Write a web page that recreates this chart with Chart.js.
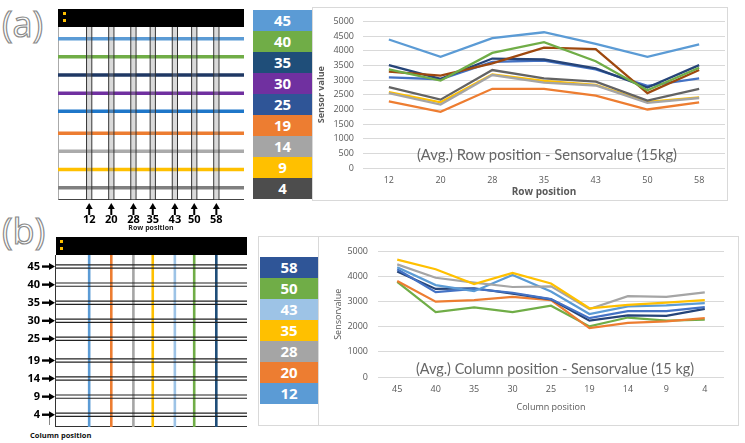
<!DOCTYPE html>
<html><head><meta charset="utf-8">
<script src="https://cdn.jsdelivr.net/npm/chart.js@4.4.0/dist/chart.umd.min.js"></script>
<style>
body{margin:0;background:#fff;width:745px;height:443px;position:relative;overflow:hidden;font-family:"Open Sans",sans-serif}
.abs{position:absolute}
.big{position:absolute;font-family:"Open Sans",sans-serif;font-size:36px;line-height:36px;color:#fff;-webkit-text-stroke:1.2px #8a8a8a;font-weight:400}
.bar{position:absolute;background:#000}
.dot{position:absolute;width:3px;height:3px;background:#FFC000}
.panel{position:absolute;border:1px solid #d9d9d9;background:#fff}
.leg div{height:21px;line-height:21px;color:#fff;font-weight:700;font-size:15px;text-align:center;font-family:"Open Sans",sans-serif}
.ttl{position:absolute;white-space:nowrap;color:#666;font-family:"Lato",sans-serif;font-size:16px}
canvas{position:absolute}
</style></head><body>

<div class="big" style="left:2px;top:6px">(a)</div>
<div class="big" style="left:2px;top:213px">(b)</div>

<!-- schematic (a) frame -->
<div class="bar" style="left:58px;top:9px;width:186px;height:18px"></div>
<div class="dot" style="left:63px;top:12px"></div>
<div class="dot" style="left:63px;top:19px"></div>
<div class="abs" style="left:58px;top:27px;width:185px;height:172px;border-left:1px solid #aaa;border-bottom:1px solid #444"></div>

<!-- schematic (b) frame -->
<div class="bar" style="left:56px;top:237px;width:191px;height:18px"></div>
<div class="dot" style="left:60px;top:240px"></div>
<div class="dot" style="left:60px;top:247px"></div>
<div class="abs" style="left:55px;top:255px;width:191px;height:171px;border-left:1px solid #333;border-bottom:1px solid #333"></div>
<div class="abs" style="left:49px;top:418px;width:1px;height:7px;background:#888"></div>
<div class="abs" style="left:30px;top:430px;font-size:7.5px;font-weight:700;color:#111">Column position</div>

<!-- panels -->
<div class="panel" style="left:312px;top:7px;width:414px;height:192px"></div>
<div class="panel" style="left:258px;top:236px;width:479px;height:188px"></div>
<div class="abs" style="left:318px;top:237px;width:1px;height:188px;background:#d9d9d9"></div>

<div class="leg abs" id="legA" style="left:253px;top:10px;width:59px"></div>
<div class="leg abs" id="legB" style="left:260px;top:257px;width:58px"></div>

<canvas id="schemA" width="186" height="205" style="left:58px;top:27px;width:186px;height:205px"></canvas>
<canvas id="schemB" width="247" height="172" style="left:0px;top:255px;width:247px;height:172px"></canvas>
<canvas id="chartA" width="414" height="192" style="left:312px;top:7px;width:414px;height:192px"></canvas>
<canvas id="chartB" width="418" height="189" style="left:320px;top:236px;width:418px;height:189px"></canvas>

<div class="ttl" style="left:547px;top:153px;transform:translate(-50%,-50%) scaleX(0.925)">(Avg.) Row position - Sensorvalue (15kg)</div>
<div class="ttl" style="left:555px;top:367px;transform:translate(-50%,-50%) scaleX(0.9)">(Avg.) Column position - Sensorvalue (15 kg)</div>

<script>
// ---------- data ----------
const rowPositions = [12, 20, 28, 35, 43, 50, 58];
const columnPositions = [45, 40, 35, 30, 25, 19, 14, 9, 4];

// chart (a): x = row position, one series per column position
const col45 = [4383, 3789, 4428, 4630, 4237, 3789, 4215];
const col40 = [3363, 2982, 3924, 4293, 3643, 2650, 3419];
const col35 = [3509, 3038, 3733, 3700, 3397, 2746, 3509];
const col30 = [3285, 3150, 3565, 4103, 4058, 2556, 3341];
const col25 = [3094, 3027, 3621, 3666, 3363, 2803, 3060];
const col19 = [2276, 1917, 2702, 2702, 2466, 1995, 2242];
const col14 = [2556, 2164, 3172, 2915, 2814, 2220, 2388];
const col9  = [2590, 2242, 3195, 2971, 2836, 2253, 2410];
const col4  = [2758, 2332, 3341, 3060, 2948, 2298, 2702];

// chart (b): x = column position, one series per row position
const row58 = [4203, 3507, 3532, 3317, 3089, 2241, 2456, 2431, 2709];
const row50 = [3785, 2583, 2773, 2583, 2836, 2013, 2367, 2241, 2279];
const row43 = [4368, 3659, 3418, 4064, 3405, 2507, 2810, 2849, 2937];
const row35 = [4671, 4292, 3697, 4140, 3722, 2735, 2874, 2962, 3064];
const row28 = [4482, 3950, 3760, 3583, 3608, 2710, 3216, 3190, 3368];
const row20 = [3823, 3000, 3064, 3190, 3064, 1950, 2152, 2216, 2342];
const row12 = [4292, 3380, 3507, 3355, 3102, 2342, 2621, 2621, 2785];

const legendALabels = ['45', '40', '35', '30', '25', '19', '14', '9', '4'];
const legendBLabels = ['58', '50', '43', '35', '28', '20', '12'];

// ---------- styles ----------
const legendAColors = ['#5B9BD5', '#70AD47', '#1F4E79', '#7030A0', '#2F5597', '#ED7D31', '#A5A5A5', '#FFC000', '#4D4D4D'];
const schemALineColors = ['#5B9BD5', '#70AD47', '#1F3864', '#7030A0', '#1F77C9', '#ED7D31', '#ABABAB', '#FFC000', '#808080'];
const legendBColors = ['#2F5597', '#70AD47', '#9DC3E6', '#FFC000', '#A5A5A5', '#ED7D31', '#5B9BD5'];
const schemBLineColors = {12: '#5B9BD5', 20: '#ED7D31', 28: '#A5A5A5', 35: '#FFC000', 43: '#9DC3E6', 50: '#70AD47', 58: '#1F4E79'};

function buildLegend(id, labels, colors) {
  const el = document.getElementById(id);
  labels.forEach((l, i) => {
    const d = document.createElement('div');
    d.textContent = l;
    d.style.background = colors[i];
    el.appendChild(d);
  });
}
buildLegend('legA', legendALabels, legendAColors);
buildLegend('legB', legendBLabels, legendBColors);

Chart.defaults.animation = false;
Chart.defaults.responsive = false;
Chart.defaults.plugins.legend.display = false;
Chart.defaults.plugins.tooltip.enabled = false;

const seg = (x1, y1, x2, y2) => [{x: x1, y: y1}, {x: x2, y: y2}];
const Y_MIN = 0.6, Y_MAX = 48.2;

// arrows drawn at the tick positions of a scale
const arrowPlugin = {
  id: 'arrows',
  afterDraw(chart, args, opts) {
    const ctx = chart.ctx;
    ctx.save();
    ctx.fillStyle = '#000';
    ctx.strokeStyle = '#000';
    ctx.lineWidth = 2;
    if (opts.dir === 'up') {
      const s = chart.scales.x;
      s.ticks.forEach(t => {
        const x = s.getPixelForValue(t.value);
        const tip = s.top + 3, tail = s.top + 15;
        ctx.beginPath(); ctx.moveTo(x, tail); ctx.lineTo(x, tip + 4); ctx.stroke();
        ctx.beginPath(); ctx.moveTo(x, tip); ctx.lineTo(x - 3.5, tip + 6); ctx.lineTo(x + 3.5, tip + 6); ctx.closePath(); ctx.fill();
      });
    } else if (opts.dir === 'right') {
      const s = chart.scales.y;
      s.ticks.forEach(t => {
        const y = s.getPixelForValue(t.value);
        const tip = s.right - 1, tail = s.right - 14;
        ctx.lineWidth = 2.4;
        ctx.beginPath(); ctx.moveTo(tail, y); ctx.lineTo(tip - 4, y); ctx.stroke();
        ctx.beginPath(); ctx.moveTo(tip, y); ctx.lineTo(tip - 6, y - 3.5); ctx.lineTo(tip - 6, y + 3.5); ctx.closePath(); ctx.fill();
      });
    }
    ctx.restore();
  }
};

// ---------- schematic (a) ----------
(function () {
  const X_MIN = 0.72, X_MAX = 68;
  const ds = [];
  rowPositions.forEach(p => {
    ds.push({data: seg(p - 0.95, Y_MIN, p - 0.95, Y_MAX), borderColor: '#333', borderWidth: 1, order: 1});
    ds.push({data: seg(p + 0.95, Y_MIN, p + 0.95, Y_MAX), borderColor: '#333', borderWidth: 1, order: 1});
    ds.push({data: seg(p, Y_MIN, p, Y_MAX), borderColor: 'rgba(150,150,150,0.35)', borderWidth: 4.5, order: 2});
  });
  columnPositions.forEach((c, i) => {
    ds.push({data: seg(X_MIN, c, X_MAX, c), borderColor: schemALineColors[i], borderWidth: 3.5, order: 3});
  });
  ds.forEach(d => { d.showLine = true; d.pointRadius = 0; });
  new Chart(document.getElementById('schemA'), {
    type: 'scatter',
    data: {datasets: ds},
    plugins: [arrowPlugin],
    options: {
      layout: {padding: 0},
      plugins: {arrows: {dir: 'up'}},
      scales: {
        x: {
          type: 'linear', min: X_MIN, max: X_MAX,
          grid: {display: false, drawTicks: false}, border: {display: false},
          afterBuildTicks: s => { s.ticks = rowPositions.map(v => ({value: v})); },
          afterFit: s => { s.height = 32; },
          ticks: {autoSkip: false, maxRotation: 0, padding: 13, color: '#000',
            font: {family: 'Open Sans', size: 11, weight: 'bold'},
            callback: v => String(v)},
          title: {display: true, text: 'Row position', color: '#222', padding: 0,
            font: {family: 'Open Sans', size: 7, weight: 'bold'}}
        },
        y: {type: 'linear', min: Y_MIN, max: Y_MAX, display: false}
      }
    }
  });
})();

// ---------- schematic (b) ----------
(function () {
  const X_MIN = 0, X_MAX = 69.1;
  const ds = [];
  columnPositions.forEach(c => {
    ds.push({data: seg(X_MIN, c - 0.45, X_MAX, c - 0.45), borderColor: '#222', borderWidth: 1.2, order: 1});
    ds.push({data: seg(X_MIN, c + 0.45, X_MAX, c + 0.45), borderColor: '#222', borderWidth: 1.2, order: 1});
  });
  rowPositions.forEach(p => {
    ds.push({data: seg(p, Y_MIN, p, Y_MAX), borderColor: schemBLineColors[p], borderWidth: 2.6, order: 2});
  });
  ds.forEach(d => { d.showLine = true; d.pointRadius = 0; });
  new Chart(document.getElementById('schemB'), {
    type: 'scatter',
    data: {datasets: ds},
    plugins: [arrowPlugin],
    options: {
      layout: {padding: 0},
      plugins: {arrows: {dir: 'right'}},
      scales: {
        x: {type: 'linear', min: X_MIN, max: X_MAX, display: false},
        y: {
          type: 'linear', min: Y_MIN, max: Y_MAX,
          grid: {display: false, drawTicks: false}, border: {display: false},
          afterBuildTicks: s => { s.ticks = columnPositions.map(v => ({value: v})); },
          afterFit: s => { s.width = 56; s.paddingTop = 0; s.paddingBottom = 0; },
          ticks: {autoSkip: false, padding: 16, color: '#000',
            font: {family: 'Open Sans', size: 11, weight: 'bold'},
            callback: v => String(v)}
        }
      }
    }
  });
})();

// ---------- line charts ----------
const tickFont = {family: 'Open Sans', size: 9};
const gridColor = '#d9d9d9';

new Chart(document.getElementById('chartA'), {
  type: 'line',
  data: {
    labels: rowPositions.map(String),
    datasets: [
      {data: col45, borderColor: '#5B9BD5'},
      {data: col40, borderColor: '#70AD47'},
      {data: col30, borderColor: '#9E480E'},
      {data: col35, borderColor: '#264478'},
      {data: col25, borderColor: '#4472C4'},
      {data: col4,  borderColor: '#636363'},
      {data: col14, borderColor: '#A5A5A5'},
      {data: col9,  borderColor: '#FFC000'},
      {data: col19, borderColor: '#ED7D31'}
    ].map(d => Object.assign(d, {borderWidth: 2.3, pointRadius: 0, tension: 0, fill: false}))
  },
  options: {
    layout: {padding: {top: 12, right: 1, bottom: 0, left: 0}},
    scales: {
      x: {
        offset: true,
        grid: {display: false, drawTicks: false}, border: {display: false},
        afterFit: s => { s.height = 31; },
        ticks: {color: '#595959', font: tickFont, padding: 7},
        title: {display: true, text: 'Row position', color: '#595959', padding: {top: 0, bottom: 1},
          font: {family: 'Open Sans', size: 10, weight: 'bold'}}
      },
      y: {
        min: 0, max: 5000,
        grid: {color: gridColor, drawTicks: false}, border: {display: false},
        afterFit: s => { s.width = 51; },
        ticks: {stepSize: 500, color: '#595959', font: tickFont, padding: 9, callback: v => String(v)},
        title: {display: true, text: 'Sensor value', color: '#595959', padding: {top: 4, bottom: 0},
          font: {family: 'Open Sans', size: 9, weight: 'bold'}}
      }
    }
  }
});

new Chart(document.getElementById('chartB'), {
  type: 'line',
  data: {
    labels: columnPositions.map(String),
    datasets: [
      {data: row35, borderColor: '#FFC000'},
      {data: row28, borderColor: '#A5A5A5'},
      {data: row43, borderColor: '#5B9BD5'},
      {data: row12, borderColor: '#4472C4'},
      {data: row58, borderColor: '#264478'},
      {data: row20, borderColor: '#ED7D31'},
      {data: row50, borderColor: '#70AD47'}
    ].map(d => Object.assign(d, {borderWidth: 2.2, pointRadius: 0, tension: 0, fill: false}))
  },
  options: {
    layout: {padding: {top: 10, right: 14, bottom: 10, left: 0}},
    scales: {
      x: {
        offset: true,
        grid: {display: false, drawTicks: false}, border: {display: false},
        afterFit: s => { s.height = 38; },
        ticks: {color: '#595959', font: tickFont, padding: 7},
        title: {display: true, text: 'Column position', color: '#595959', padding: {top: 0, bottom: 2},
          font: {family: 'Open Sans', size: 9}}
      },
      y: {
        min: 0, max: 5000,
        grid: {color: gridColor, drawTicks: false}, border: {display: false},
        afterFit: s => { s.width = 58; },
        ticks: {stepSize: 500, color: '#595959', font: tickFont, padding: 10, callback: v => String(v)},
        title: {display: true, text: 'Sensorvalue', color: '#595959', padding: {top: 13, bottom: 0},
          font: {family: 'Open Sans', size: 9}}
      }
    }
  }
});
</script>
</body></html>
